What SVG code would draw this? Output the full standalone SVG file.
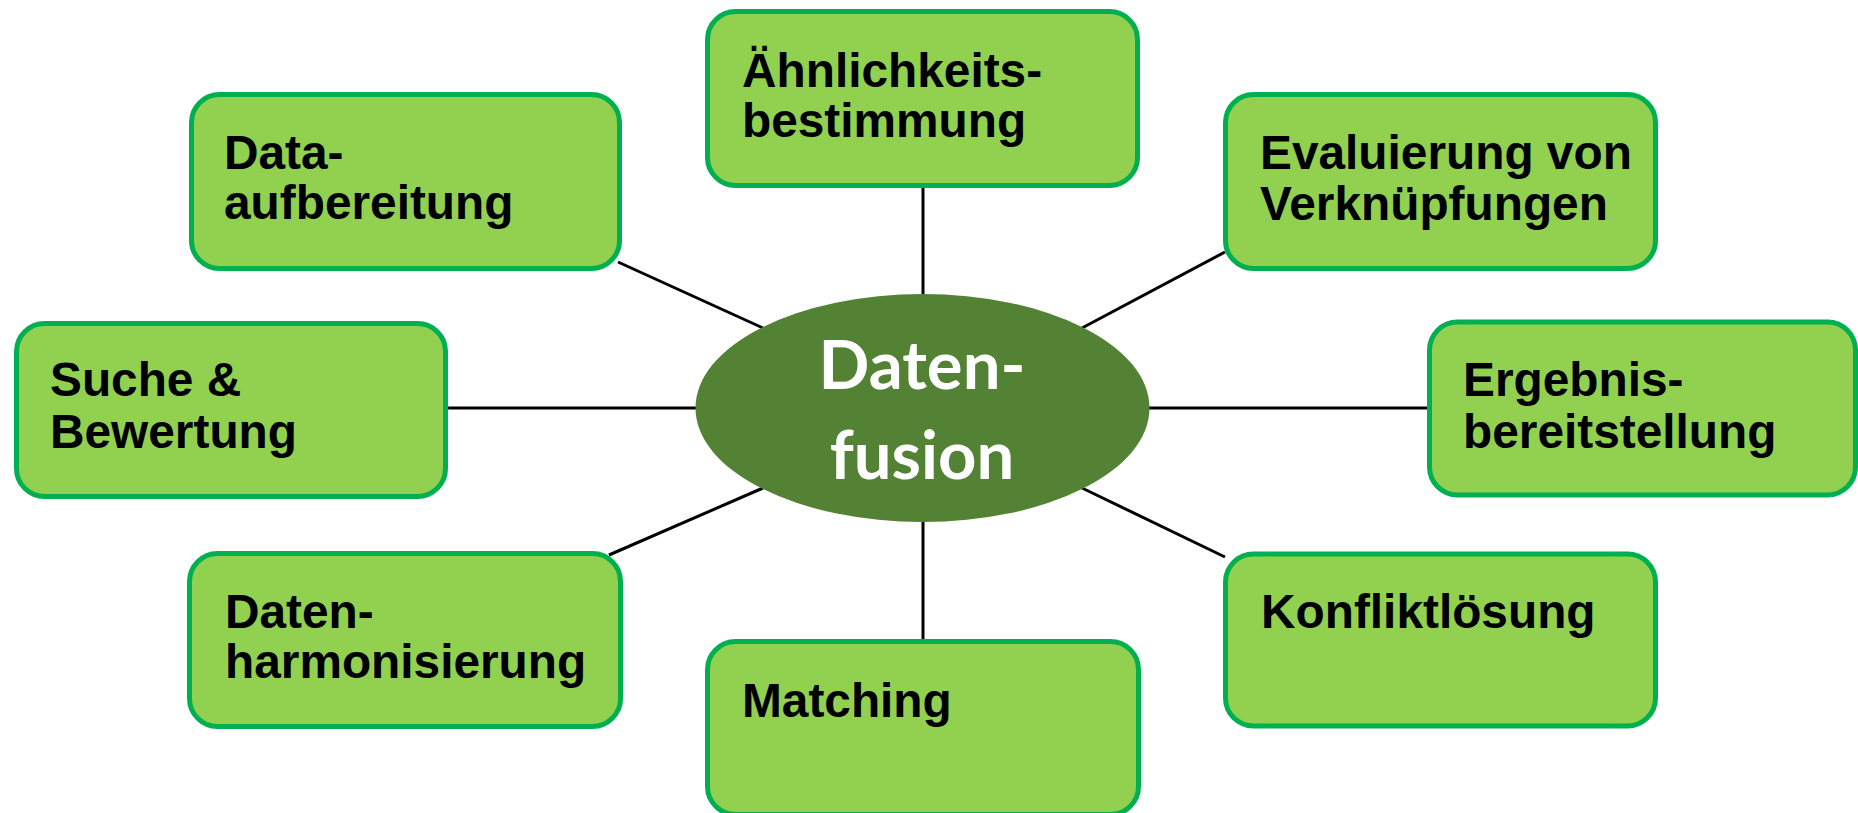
<svg xmlns="http://www.w3.org/2000/svg" width="1858" height="813" viewBox="0 0 1858 813">
<style>
.box{fill:#92D050;stroke:#00B050;stroke-width:5}
.lbl{font-family:"Liberation Sans",Arial,sans-serif;font-weight:bold;font-size:47.8px;fill:#000}
.con{stroke:#000;stroke-width:3;fill:none}
.ctr{font-family:Lato,"Open Sans",sans-serif;font-weight:bold;font-size:67px;fill:#fff;text-anchor:middle}
</style>
<rect width="1858" height="813" fill="#fff"/>
<g id="connectors">
<line class="con" x1="923" y1="187" x2="923" y2="296"/>
<line class="con" x1="923" y1="520" x2="923" y2="639"/>
<line class="con" x1="448" y1="408" x2="697" y2="408"/>
<line class="con" x1="1148" y1="408" x2="1427" y2="408"/>
<line class="con" x1="618" y1="262" x2="763" y2="328"/>
<line class="con" x1="1082" y1="328" x2="1225" y2="252"/>
<line class="con" x1="609" y1="555" x2="763" y2="488"/>
<line class="con" x1="1082" y1="488" x2="1225" y2="557"/>
</g>
<g id="center">
<ellipse cx="922.5" cy="408" rx="227" ry="114" fill="#548235"/>
<text class="ctr" x="922" y="389">Daten-</text>
<text class="ctr" x="922" y="479">fusion</text>
</g>
<g id="n-aehnlichkeit">
<rect class="box" x="707.5" y="11.5" width="430" height="174" rx="28"/>
<text class="lbl" x="742" y="87">Ähnlichkeits-</text>
<text class="lbl" x="742" y="137">bestimmung</text>
</g>
<g id="n-aufbereitung">
<rect class="box" x="191.5" y="94.5" width="428" height="174" rx="28"/>
<text class="lbl" x="224" y="169">Data-</text>
<text class="lbl" x="224" y="219">aufbereitung</text>
</g>
<g id="n-evaluierung">
<rect class="box" x="1225.5" y="94.5" width="430" height="174" rx="28"/>
<text class="lbl" x="1260" y="169">Evaluierung von</text>
<text class="lbl" x="1260" y="220">Verknüpfungen</text>
</g>
<g id="n-suche">
<rect class="box" x="16.5" y="323.5" width="429" height="173" rx="28"/>
<text class="lbl" x="50" y="396">Suche &amp;</text>
<text class="lbl" x="50" y="448">Bewertung</text>
</g>
<g id="n-ergebnis">
<rect class="box" x="1429.5" y="322" width="426" height="173" rx="28"/>
<text class="lbl" x="1463" y="396">Ergebnis-</text>
<text class="lbl" x="1463" y="448">bereitstellung</text>
</g>
<g id="n-harmonisierung">
<rect class="box" x="189.5" y="553.5" width="431" height="173" rx="28"/>
<text class="lbl" x="225" y="628">Daten-</text>
<text class="lbl" x="225" y="678">harmonisierung</text>
</g>
<g id="n-matching">
<rect class="box" x="707.5" y="641.5" width="431" height="173" rx="28"/>
<text class="lbl" x="742" y="717">Matching</text>
</g>
<g id="n-konflikt">
<rect class="box" x="1225.5" y="554" width="430" height="172" rx="28"/>
<text class="lbl" x="1261" y="628">Konfliktlösung</text>
</g>
</svg>
